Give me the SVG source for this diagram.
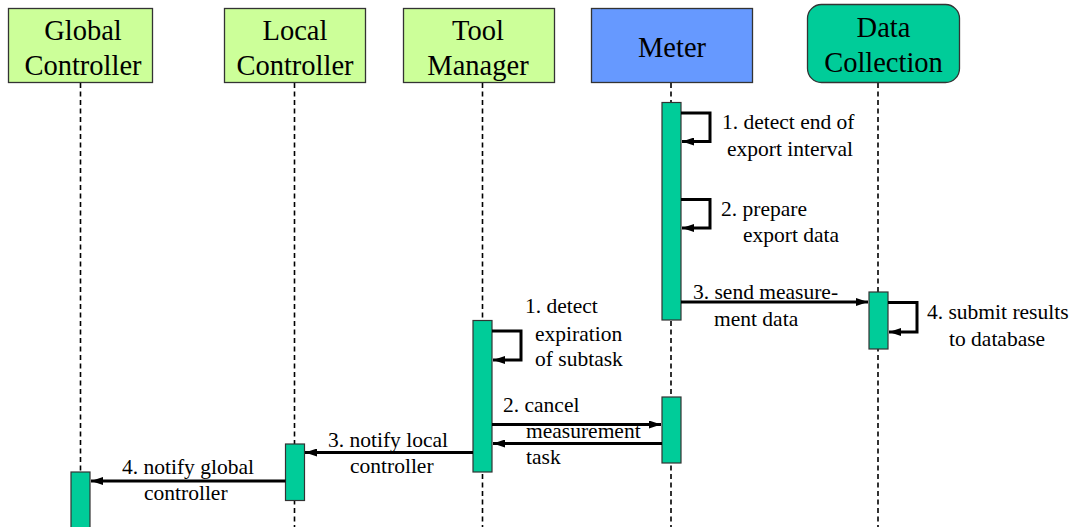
<svg xmlns="http://www.w3.org/2000/svg" width="1076" height="527" viewBox="0 0 1076 527">
  <style>
    .hdr { stroke: #333333; stroke-width: 1.3; }
    .green { fill: #ccff99; }
    .blue { fill: #6699ff; }
    .teal { fill: #00cc99; }
    text { font-family: 'Liberation Serif', 'Times New Roman', Times, serif; fill: #000; }
    .htxt { font-size: 28.5px; text-anchor: middle; }
    .lbl { font-size: 21.5px; }
    .life { stroke: #000; stroke-width: 1.6; stroke-dasharray: 5 3.5; fill: none; }
    .act { fill: #00cc99; stroke: #333333; stroke-width: 1.2; }
    .msg { stroke: #000; stroke-width: 3; fill: none; }
  </style>
  <defs>
    <marker id="ah" viewBox="0 0 12 8" refX="12" refY="4" markerWidth="12" markerHeight="8" markerUnits="userSpaceOnUse" orient="auto">
      <path d="M0,0 L12,4 L0,8 Z" fill="#000"/>
    </marker>
  </defs>

  <!-- lifelines -->
  <g id="lifelines">
    <line class="life" x1="80.5" y1="83" x2="80.5" y2="527"/>
    <line class="life" x1="294.5" y1="83" x2="294.5" y2="527"/>
    <line class="life" x1="482.5" y1="83" x2="482.5" y2="527"/>
    <line class="life" x1="671" y1="83" x2="671" y2="527"/>
    <line class="life" x1="878" y1="83" x2="878" y2="527"/>
  </g>

  <!-- participants -->
  <g id="global-controller">
    <rect class="hdr green" x="8.5" y="8.5" width="144" height="74"/>
    <text class="htxt" x="83" y="40">Global</text>
    <text class="htxt" x="83" y="75">Controller</text>
  </g>
  <g id="local-controller">
    <rect class="hdr green" x="224.5" y="8.5" width="141" height="74"/>
    <text class="htxt" x="295" y="40">Local</text>
    <text class="htxt" x="295" y="75">Controller</text>
  </g>
  <g id="tool-manager">
    <rect class="hdr green" x="403.5" y="8.5" width="151" height="74"/>
    <text class="htxt" x="478" y="40">Tool</text>
    <text class="htxt" x="478" y="75">Manager</text>
  </g>
  <g id="meter">
    <rect class="hdr blue" x="591.5" y="8.5" width="161" height="74"/>
    <text class="htxt" x="672" y="56.5">Meter</text>
  </g>
  <g id="data-collection">
    <rect class="hdr teal" x="807.5" y="4.5" width="152" height="78" rx="14" ry="14"/>
    <text class="htxt" x="883.5" y="37">Data</text>
    <text class="htxt" x="883.5" y="71.5">Collection</text>
  </g>

  <!-- activation bars -->
  <g id="activations">
    <rect class="act" x="662" y="102.5" width="19" height="217.5"/>
    <rect class="act" x="869" y="292" width="19" height="57"/>
    <rect class="act" x="473" y="320.5" width="19" height="151.5"/>
    <rect class="act" x="662" y="397" width="19" height="66"/>
    <rect class="act" x="285.5" y="444" width="19" height="56.5"/>
    <rect class="act" x="71" y="472" width="19" height="60"/>
  </g>

  <!-- messages -->
  <g id="connectors">
    <path class="msg" d="M681,113 H710 V141.5 H682" marker-end="url(#ah)"/>
    <path class="msg" d="M681,199.5 H710 V228 H682" marker-end="url(#ah)"/>
    <path class="msg" d="M681,302 H868" marker-end="url(#ah)"/>
    <path class="msg" d="M888,302.5 H917 V332 H889" marker-end="url(#ah)"/>
    <path class="msg" d="M492,331 H521 V360 H493" marker-end="url(#ah)"/>
    <path class="msg" d="M492,424.5 H661" marker-end="url(#ah)"/>
    <path class="msg" d="M662,443.5 H493" marker-end="url(#ah)"/>
    <path class="msg" d="M473,452.5 H305" marker-end="url(#ah)"/>
    <path class="msg" d="M285.5,481 H91" marker-end="url(#ah)"/>
  </g>

  <!-- message labels -->
  <g id="labels">
    <text class="lbl" x="722" y="129">1. detect end of</text>
    <text class="lbl" x="727" y="156">export interval</text>
    <text class="lbl" x="721" y="216">2. prepare</text>
    <text class="lbl" x="743" y="242">export data</text>
    <text class="lbl" x="693" y="299">3. send measure-</text>
    <text class="lbl" x="714" y="326">ment data</text>
    <text class="lbl" x="927" y="319">4. submit results</text>
    <text class="lbl" x="949" y="346">to database</text>
    <text class="lbl" x="525" y="313">1. detect</text>
    <text class="lbl" x="535" y="341">expiration</text>
    <text class="lbl" x="535" y="366">of subtask</text>
    <text class="lbl" x="503" y="412">2. cancel</text>
    <text class="lbl" x="526" y="438">measurement</text>
    <text class="lbl" x="526" y="464">task</text>
    <text class="lbl" x="328" y="447">3. notify local</text>
    <text class="lbl" x="350" y="473">controller</text>
    <text class="lbl" x="122" y="474">4. notify global</text>
    <text class="lbl" x="144" y="500">controller</text>
  </g>
</svg>
